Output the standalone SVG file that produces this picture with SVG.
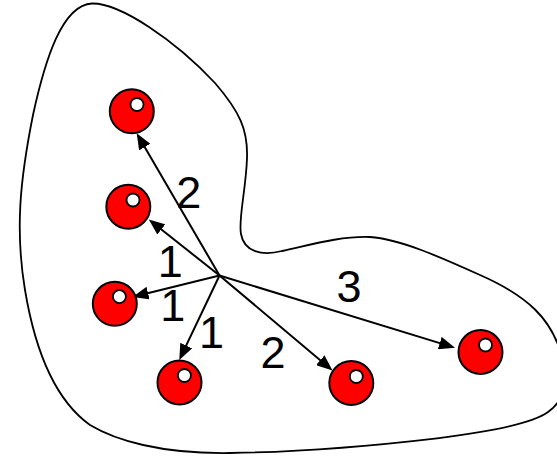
<svg xmlns="http://www.w3.org/2000/svg" width="557" height="456" viewBox="0 0 557 456">
<defs>
<style>
.blob{fill:none;stroke:#000;stroke-width:1.8}
.node{fill:#f00;stroke:#000;stroke-width:2}
.dot{fill:#fff;stroke:#000;stroke-width:1.8}
.edge{stroke:#000;stroke-width:2;fill:none;marker-end:url(#ah)}
.lbl{font-family:"Liberation Sans",Arial,sans-serif;font-size:45px;fill:#000}
</style>
<marker id="ah" viewBox="0 0 16 13" refX="12" refY="6.5" markerWidth="16" markerHeight="13" markerUnits="userSpaceOnUse" orient="auto">
<path d="M0,0 L16,6.5 L0,13 Z" fill="#000"/>
</marker>
</defs>
<rect width="557" height="456" fill="#fff"/>
<path id="region" class="blob" d="M92,3.5 C120,3 175,40 215,83 C240,112 248,130 247,158 C246,190 238,220 241,234 C244,252 262,256 282,251 C310,245 340,236 370,237 C400,239 440,257 480,275 C530,297 550,320 560,350 C570,380 565,400 548,412 C530,425 480,433 437,438.3 C380,445 300,452 230,453 C160,454 115,440 90,425 C55,400 35,350 25,290 C15,230 20,180 33,115 C45,60 62,5 92,3.5 Z"/>
<g id="connectors">
<line class="edge" x1="219.5" y1="275.5" x2="138.7" y2="136.75"/>
<line class="edge" x1="219.5" y1="275.5" x2="151.95" y2="221.96"/>
<line class="edge" x1="219.5" y1="275.5" x2="136.4" y2="296.0"/>
<line class="edge" x1="219.5" y1="275.5" x2="181.0" y2="356.4"/>
<line class="edge" x1="219.5" y1="275.5" x2="329.45" y2="367.9"/>
<line class="edge" x1="219.5" y1="275.5" x2="451.2" y2="346.6"/>
</g>
<g id="nodeA"><circle class="node" cx="131.8" cy="111.3" r="22"/><circle class="dot" cx="137" cy="104.5" r="6.5"/></g>
<g id="nodeB"><circle class="node" cx="128.3" cy="206.7" r="22"/><circle class="dot" cx="133" cy="200" r="6.5"/></g>
<g id="nodeC"><circle class="node" cx="114.8" cy="303.8" r="22"/><circle class="dot" cx="119.4" cy="296.6" r="6.5"/></g>
<g id="nodeD"><circle class="node" cx="179.5" cy="382.5" r="22"/><circle class="dot" cx="184.4" cy="375.5" r="6.5"/></g>
<g id="nodeE"><circle class="node" cx="351.3" cy="383" r="22"/><circle class="dot" cx="356.3" cy="376.5" r="6.5"/></g>
<g id="nodeF"><circle class="node" cx="480.5" cy="352" r="22"/><circle class="dot" cx="485.5" cy="345" r="6.5"/></g>
<g id="labels">
<text class="lbl" x="176.3" y="208">2</text>
<text class="lbl" x="157.8" y="277">1</text>
<text class="lbl" x="160.3" y="320.5">1</text>
<text class="lbl" x="199.1" y="348">1</text>
<text class="lbl" x="260.4" y="368">2</text>
<text class="lbl" x="336.6" y="301.5">3</text>
</g>
</svg>
